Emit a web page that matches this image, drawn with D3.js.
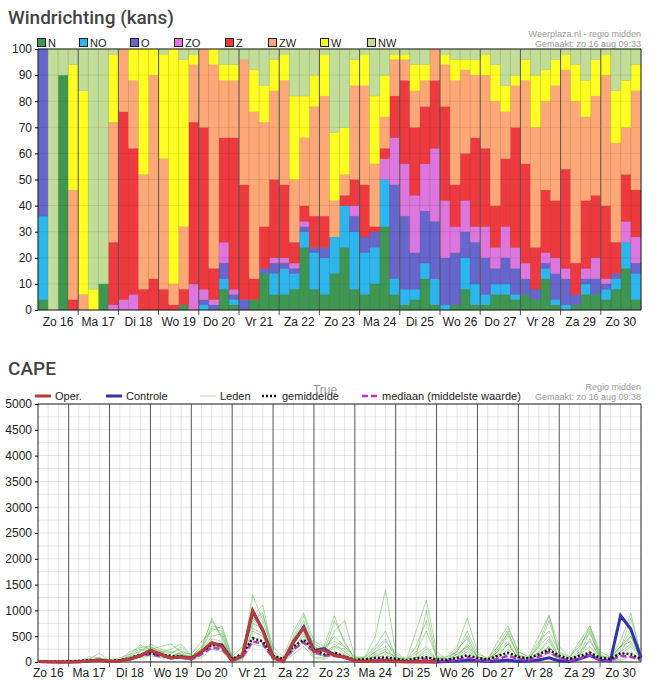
<!DOCTYPE html>
<html><head><meta charset="utf-8">
<script src="https://cdn.jsdelivr.net/npm/d3@7"></script>
<style>body{margin:0;background:#fff}svg{display:block}</style>
</head><body><svg id="c" width="659" height="680"></svg>
<script>
// ---------- Data ----------
const dayLabels = ["Zo 16","Ma 17","Di 18","Wo 19","Do 20","Vr 21","Za 22","Zo 23","Ma 24","Di 25","Wo 26","Do 27","Vr 28","Za 29","Zo 30"];
const dirKeys = ["N","NO","O","ZO","Z","ZW","W","NW"];
const dirColors = ["#3e9651","#2db6ee","#6666cc","#dd77dd","#ee3a3e","#ffa877","#ffff22","#c2dd98"];
// kans (%) per 6-uurs blok, 60 blokken
const N  = [4,0,90,0, 0,0,10,0, 0,0,0,0, 0,0,2,0, 0,0,8,2, 0,4,14,6, 6,8,24,8, 6,14,24,8, 6,10,32,6, 2,4,12,2, 0,2,8,2, 2,6,6,4, 6,4,12,2, 0,2,6,6, 4,8,16,4];
const NO = [32,0,0,0, 0,0,0,0, 0,0,0,0, 0,0,0,0, 2,0,4,2, 0,0,0,8, 10,6,6,14, 14,14,16,22, 16,14,18,6, 6,4,6,10, 2,0,12,8, 4,4,4,2, 0,0,4,2, 2,0,4,0, 4,4,10,10];
const O  = [64,0,0,0, 0,0,0,0, 0,0,0,0, 0,0,0,0, 2,2,6,2, 4,0,2,4, 2,2,2,2, 4,0,0,6, 6,6,0,36, 28,14,20,22, 18,20,10,16, 14,6,10,10, 6,4,2,10, 10,4,2,6, 2,2,0,4];
const ZO = [0,0,0,0, 0,0,0,2, 4,6,0,0, 0,0,0,10, 4,2,8,2, 0,0,0,2, 2,2,2,0, 0,0,0,4, 0,0,8,18, 20,22,18,28, 22,10,12,6, 12,8,12,8, 6,0,4,6, 4,0,4,8, 2,0,8,10];
const Z  = [0,0,0,4, 0,0,0,24, 72,56,8,12, 8,2,6,62, 62,12,40,58, 44,8,16,30, 28,8,6,12, 12,0,4,10, 20,2,4,16, 32,26,22,26, 36,16,18,34, 30,16,26,46, 38,16,24,22, 38,12,26,24, 28,12,18,18];
const ZW = [0,0,0,42, 6,0,0,46, 24,26,44,78, 50,8,24,22, 30,78,22,22, 48,64,40,34, 40,24,26,42, 46,14,8,36, 38,24,12,14, 8,14,10,12, 16,40,32,24, 28,40,18,16, 32,46,34,44, 38,62,32,38, 50,38,18,38];
const W  = [0,0,0,48, 78,8,0,26, 0,12,48,10, 40,90,64,4, 0,6,6,6, 0,16,14,12, 10,32,16,12, 16,26,18,10, 12,26,16,2, 2,10,6,0, 4,8,4,6, 8,14,10,4, 8,20,12,10, 6,14,14,14, 8,20,18,10];
const NW = [0,100,10,6, 16,92,90,2, 0,0,0,0, 2,0,4,2, 0,0,6,6, 4,8,14,4, 2,18,18,10, 2,32,30,4, 2,18,10,2, 2,6,6,0, 2,4,4,4, 2,6,14,10, 4,10,8,4, 2,6,12,4, 2,16,12,6];
const dirSeries = [N,NO,O,ZO,Z,ZW,W,NW];
const yTicksTop = [0,10,20,30,40,50,60,70,80,90,100];

// CAPE, uren na zo 16 00:00 (6-uurs stappen)
const capeHours = [6,12,18,24,30,36,42,48,54,60,66,72,78,84,90,96,102,108,114,120,126,132,138,144,150,156,162,168,174,180,186,192,198,204,210,216,222,228,234,240,246,252,258,264,270,276,282,288,294,300,306,312,318,324,330,336,342,348,354,360];
const oper = [10,5,0,0, 5,20,40,10, 20,60,120,230, 150,80,100,70, 200,380,300,20, 130,1000,600,80, 10,400,660,200, 230,120,100,20, 10,20,30,10, 5,10,5,0];
const controle = [10,5,0,0, 5,20,40,10, 20,60,120,220, 150,80,100,70, 200,360,330,30, 120,980,620,90, 10,380,680,220, 260,130,90,20, 10,20,30,10, 5,10,5,0, 10,20,40,30, 10,20,40,10, 20,40,80,20, 10,60,130,40, 20,900,640,80];
const gemiddelde = [10,5,5,10, 20,40,30,20, 40,70,150,170, 140,120,110,80, 200,330,320,60, 150,460,400,120, 60,300,430,250, 150,180,110,40, 50,80,90,60, 30,70,90,50, 40,80,130,80, 50,120,180,100, 70,150,240,120, 60,120,180,80, 60,170,150,60];
const mediaan = [5,0,0,5, 10,20,20,10, 20,50,120,150, 110,90,80,50, 150,280,250,30, 100,400,350,80, 30,250,380,200, 120,140,80,20, 20,40,50,30, 10,30,50,20, 20,40,90,40, 20,60,120,60, 40,100,200,80, 30,70,130,40, 30,120,100,40];
const leden = [
 [0,0,0,0, 0,60,170,20, 50,200,280,300, 200,150,300,100, 300,800,500,50, 200,850,700,100, 50,500,900,300, 200,800,400,50, 100,300,600,100, 50,150,300,50, 100,300,850,200, 50,300,650,200, 100,400,600,200, 100,400,700,200, 100,400,950,100],
 [0,0,0,20, 20,100,80,40, 80,150,330,250, 300,350,200,150, 400,600,700,100, 300,700,900,300, 100,600,950,400, 300,400,300,100, 100,500,1400,200, 50,200,600,100, 100,200,500,100, 50,400,700,200, 100,500,900,300, 100,300,650,100, 100,300,400,100],
 [0,0,0,0, 0,30,50,10, 20,100,200,350, 250,200,150,100, 250,700,650,80, 100,1300,800,200, 50,400,700,300, 200,300,250,50, 50,100,200,100, 30,600,1200,200, 50,150,300,100, 50,200,600,100, 50,300,500,100, 50,200,400,100, 50,300,600,100],
 [0,0,0,0, 0,10,20,0, 10,50,100,200, 150,100,180,50, 150,400,300,20, 80,600,500,50, 20,300,500,150, 150,600,800,100, 50,200,400,150, 50,100,1000,100, 50,100,350,100, 50,200,400,50, 30,150,300,50, 30,150,600,50, 20,200,350,80],
 [0,0,0,0, 10,40,80,20, 30,150,250,200, 180,250,350,120, 250,850,450,60, 150,750,650,150, 30,450,800,250, 300,900,350,80, 50,200,300,50, 20,80,200,40, 30,250,450,80, 40,250,500,150, 60,350,900,150, 60,250,700,150, 40,250,850,150],
 [0,0,0,0, 0,20,40,0, 10,80,150,250, 200,100,200,80, 200,500,550,40, 100,900,1100,150, 20,350,600,200, 100,300,150,30, 20,150,250,60, 10,50,150,30, 20,150,300,50, 20,150,350,60, 40,200,450,80, 30,150,300,60, 20,150,300,60],
 [0,0,0,0, 0,10,30,10, 20,60,130,180, 100,80,120,60, 120,350,250,30, 60,500,350,60, 10,200,400,100, 80,200,120,20, 10,60,150,30, 5,40,100,20, 10,80,200,30, 10,80,250,40, 20,100,300,50, 10,80,200,40, 10,60,200,30],
 [0,0,0,0, 0,0,10,0, 5,30,80,120, 80,60,80,40, 80,250,200,10, 40,350,300,40, 5,150,300,80, 50,150,80,10, 5,30,80,20, 5,20,60,10, 5,40,120,20, 5,50,150,20, 10,60,180,30, 5,50,120,20, 5,30,120,20],
 [0,0,0,0, 0,30,60,10, 30,120,220,280, 220,180,250,90, 220,650,600,70, 120,800,950,120, 40,450,700,350, 250,500,300,60, 80,250,450,80, 40,300,800,80, 60,200,600,150, 80,300,550,120, 80,300,800,180, 80,350,550,120, 80,300,500,90],
 [0,0,0,0, 0,20,20,0, 10,40,100,150, 120,100,150,60, 150,450,400,30, 80,650,550,80, 20,250,550,150, 120,350,200,40, 30,120,200,40, 20,80,250,40, 30,100,250,40, 30,120,350,60, 30,180,400,70, 30,120,450,50, 20,200,500,60]
];
const yTicksCape = [0,500,1000,1500,2000,2500,3000,3500,4000,4500,5000];

// ---------- Drawing ----------
const svg = d3.select("#c");
const FT = "'Liberation Sans', Arial, sans-serif";
const L = 38, R = 641;

// ---- Top chart ----
const tT = 49, tB = 310;
svg.append("text").attr("x",8).attr("y",24).attr("font-family","Roboto").attr("font-weight",500)
  .attr("font-size",19).attr("fill","#444").text("Windrichting (kans)");
svg.append("text").attr("x",R).attr("y",37).attr("text-anchor","end").attr("font-family",FT).attr("font-size",9).attr("fill","#999").text("Weerplaza.nl - regio midden");
svg.append("text").attr("x",R).attr("y",47).attr("text-anchor","end").attr("font-family",FT).attr("font-size",9).attr("fill","#999").text("Gemaakt: zo 16 aug 09:33");
const legX = [37,79,130,174,225,268,320,367];
dirKeys.forEach((k,i)=>{
  svg.append("rect").attr("x",legX[i]+0.5).attr("y",38.5).attr("width",8).attr("height",8).attr("fill",dirColors[i]).attr("stroke","#222");
  svg.append("text").attr("x",legX[i]+11).attr("y",47).attr("font-family",FT).attr("font-size",11).attr("fill","#222").text(k);
});
const rows = N.map((_,i)=>{const o={i}; dirKeys.forEach((k,j)=>o[k]=dirSeries[j][i]); return o;});
const stack = d3.stack().keys(dirKeys)(rows);
const xb = d3.scaleLinear().domain([0,60]).range([L,R]);
const yt = d3.scaleLinear().domain([0,100]).range([tB,tT]);
stack.forEach((layer,j)=>{
  svg.append("g").selectAll("rect").data(layer).join("rect")
    .attr("x",d=>xb(d.data.i)).attr("width",xb(1)-xb(0))
    .attr("y",d=>yt(d[1])).attr("height",d=>yt(d[0])-yt(d[1]))
    .attr("fill",dirColors[j]).attr("stroke",d3.color(dirColors[j]).darker(0.4)).attr("stroke-width",0.4);
});
const gg = svg.append("g").attr("stroke","#000").attr("stroke-opacity",0.08);
yTicksTop.forEach(v=>gg.append("line").attr("x1",L).attr("x2",R).attr("y1",yt(v)).attr("y2",yt(v)));
d3.range(1,60).forEach(i=>{ if(i%4) gg.append("line").attr("x1",xb(i)).attr("x2",xb(i)).attr("y1",tT).attr("y2",tB);});
d3.range(4,60,4).forEach(i=>svg.append("line").attr("x1",xb(i)).attr("x2",xb(i)).attr("y1",tT).attr("y2",tB+5).attr("stroke","#555").attr("stroke-width",1));
svg.append("line").attr("x1",L).attr("x2",R).attr("y1",tT).attr("y2",tT).attr("stroke","#222");
svg.append("line").attr("x1",L).attr("x2",R).attr("y1",tB).attr("y2",tB).attr("stroke","#222");
svg.append("line").attr("x1",L).attr("x2",L).attr("y1",tT).attr("y2",tB).attr("stroke","#222");
svg.append("line").attr("x1",R).attr("x2",R).attr("y1",tT).attr("y2",tB).attr("stroke","#222");
const yAxT = svg.append("g").attr("transform",`translate(${L},0)`).call(d3.axisLeft(yt).tickValues(yTicksTop).tickSize(3));
yAxT.select(".domain").remove();
yAxT.selectAll("text").attr("font-family",FT).attr("font-size",12).attr("fill","#222");
dayLabels.forEach((d,i)=>svg.append("text").attr("x",xb(i*4+2)).attr("y",326).attr("text-anchor","middle").attr("font-family",FT).attr("font-size",12).attr("fill","#222").text(d));

// ---- CAPE chart ----
const cT = 404, cB = 662;
svg.append("text").attr("x",8).attr("y",375).attr("font-family","Roboto").attr("font-weight",500)
  .attr("font-size",19).attr("fill","#444").text("CAPE");
svg.append("text").attr("x",R).attr("y",390).attr("text-anchor","end").attr("font-family",FT).attr("font-size",9).attr("fill","#999").text("Regio midden");
svg.append("text").attr("x",R).attr("y",400).attr("text-anchor","end").attr("font-family",FT).attr("font-size",9).attr("fill","#999").text("Gemaakt: zo 16 aug 09:38");
const xc = d3.scaleLinear().domain([6,360]).range([L,R]);
const yc = d3.scaleLinear().domain([0,5000]).range([cB,cT]);
const cg = svg.append("g").attr("stroke","#000").attr("stroke-opacity",0.1);
d3.range(0,5001,250).forEach(v=>cg.append("line").attr("x1",L).attr("x2",R).attr("y1",yc(v)).attr("y2",yc(v)));
d3.range(12,360,6).forEach(h=>{ if(h%24) cg.append("line").attr("x1",xc(h)).attr("x2",xc(h)).attr("y1",cT).attr("y2",cB);});
d3.range(24,360,24).forEach(h=>svg.append("line").attr("x1",xc(h)).attr("x2",xc(h)).attr("y1",cT).attr("y2",cB+5).attr("stroke","#555"));
svg.append("line").attr("x1",L).attr("x2",R).attr("y1",cT).attr("y2",cT).attr("stroke","#222");
svg.append("line").attr("x1",L).attr("x2",R).attr("y1",cB).attr("y2",cB).attr("stroke","#222");
svg.append("line").attr("x1",L).attr("x2",L).attr("y1",cT).attr("y2",cB).attr("stroke","#222");
svg.append("line").attr("x1",R).attr("x2",R).attr("y1",cT).attr("y2",cB).attr("stroke","#222");
const yAxC = svg.append("g").attr("transform",`translate(${L},0)`).call(d3.axisLeft(yc).tickValues(yTicksCape).tickFormat(d3.format("d")).tickSize(3));
yAxC.select(".domain").remove();
yAxC.selectAll("text").attr("font-family",FT).attr("font-size",12).attr("fill","#222");
dayLabels.forEach((d,i)=>{ const c = Math.max(xc(i*24+12), 48); svg.append("text").attr("x",c).attr("y",677).attr("text-anchor","middle").attr("font-family",FT).attr("font-size",12).attr("fill","#222").text(d);});
const line = d3.line().x((d,i)=>xc(capeHours[i])).y(d=>yc(d));
const plot = svg.append("g");
leden.forEach(m=>plot.append("path").attr("d",line(m)).attr("fill","none").attr("stroke","#4caf35").attr("stroke-opacity",0.45).attr("stroke-width",1));
plot.append("path").attr("d",line(controle)).attr("fill","none").attr("stroke","#3333aa").attr("stroke-width",3);
plot.append("path").attr("d",line(mediaan)).attr("fill","none").attr("stroke","#bb33cc").attr("stroke-width",2.5).attr("stroke-dasharray","6,3");
plot.append("path").attr("d",line(gemiddelde)).attr("fill","none").attr("stroke","#111").attr("stroke-width",2.5).attr("stroke-dasharray","2,2");
plot.append("path").attr("d",line(oper)).attr("fill","none").attr("stroke","#bb3a3a").attr("stroke-width",3);
const lg = [["Oper.",35,"#bb3a3a",3,null],["Controle",106,"#3333aa",3,null],["Leden",200,"#b8d4a8",1,null],["gemiddelde",262,"#111",2.5,"2,2"],["mediaan (middelste waarde)",362,"#bb33cc",2.5,"6,3"]];
lg.forEach(([t,x,c,w,da])=>{
  const l = svg.append("line").attr("x1",x).attr("x2",x+16).attr("y1",396).attr("y2",396).attr("stroke",c).attr("stroke-width",w);
  if(da) l.attr("stroke-dasharray",da);
  svg.append("text").attr("x",x+20).attr("y",400).attr("font-family",FT).attr("font-size",11).attr("fill","#222").text(t);
});
svg.append("text").attr("x",325).attr("y",394).attr("text-anchor","middle").attr("font-family",FT).attr("font-size",12).attr("fill","#999").text("True");
</script></body></html>
